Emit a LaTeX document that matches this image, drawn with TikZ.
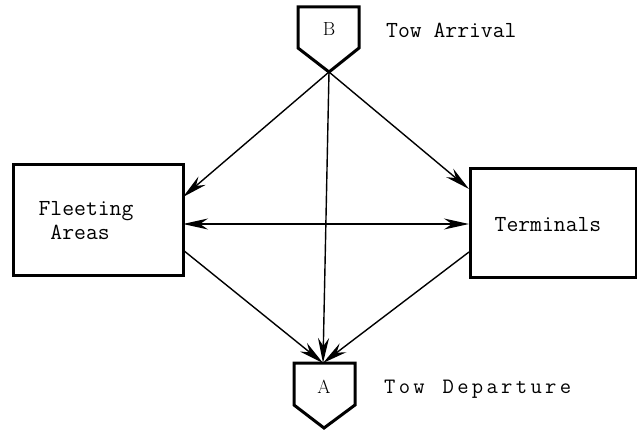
\documentclass[tikz,border=0pt]{standalone}
\usetikzlibrary{arrows.meta,calc}
\newcommand\ks{\kern3.3pt}
\begin{document}
\begin{tikzpicture}[x=1pt,y=-1pt,
  tip/.tip={Stealth[length=25pt,width=11pt,inset=8pt]},
  box/.style={draw,line width=3pt,inner sep=0pt,align=center},
  conn/.style={line width=1.4pt,-tip},
  both/.style={line width=1.4pt,tip-tip},
  pent/.style={line width=3pt,line join=miter},
  lbl/.style={font=\ttfamily\fontsize{23}{27}\selectfont,anchor=west,inner sep=0pt},
  letter/.style={font=\rmfamily\fontsize{19}{22}\selectfont,inner sep=0pt}]
\useasboundingbox (0,0) rectangle (637,430);
% pentagons
\draw[pent] (298,7) -- (359,7) -- (359,48) -- (329,72) -- (298,48) -- cycle;
\coordinate (Btip) at (329,72);
\node[letter] (B) at (329,29) {B};
\draw[pent] (294,363) -- (355,363) -- (355,405) -- (324,428) -- (294,405) -- cycle;
\coordinate (Atop) at (323,363);
\node[letter] (A) at (324,387) {A};
% boxes
\node[box,minimum width=170pt,minimum height=111pt] (fa) at (98,220.5) {};
\node[font=\ttfamily\fontsize{23}{27}\selectfont,align=left,inner sep=0pt] (fat) at (86,221) {Fleeting\\[-3pt]\ Areas};
\node[box,minimum width=166pt,minimum height=109pt] (te) at (553,223.5) {};
\node[font=\ttfamily\fontsize{23}{27}\selectfont,inner sep=0pt] (tet) at (548,225) {Terminals};
% labels
\node[lbl] (arr) at (386,30) {Tow Arrival};
\node[lbl,font=\ttfamily\fontsize{22}{26}\selectfont] (dep) at (384,389) {T\ks o\ks w\ks\ \ks D\ks e\ks p\ks a\ks r\ks t\ks u\ks r\ks e};
% connectors
\coordinate (faIn) at (183,197);
\coordinate (teIn) at (469,189);
\coordinate (faL) at (183,224);
\coordinate (teL) at (469,224);
\coordinate (faOut) at (183,250);
\coordinate (teOut) at (469,252);
\draw[conn] (Btip) -- (faIn);
\draw[conn] (Btip) -- (teIn);
\draw[conn] (Btip) -- (Atop);
\draw[both] (faL) -- (teL);
\draw[conn] (faOut) -- (Atop);
\draw[conn] (teOut) -- (Atop);
\end{tikzpicture}
\end{document}
